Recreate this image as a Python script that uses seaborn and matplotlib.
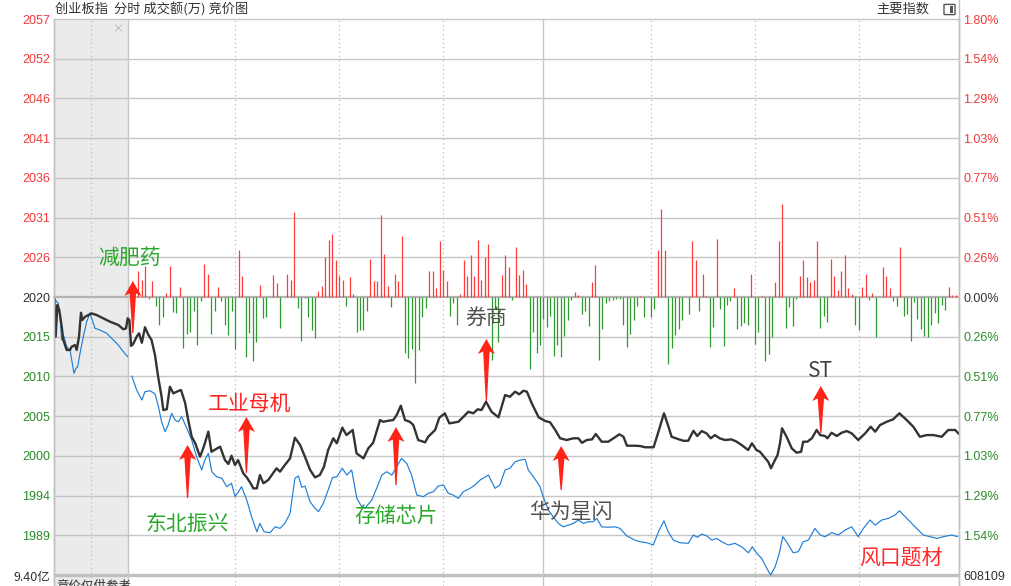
import numpy as np
import pandas as pd
import matplotlib
matplotlib.use("Agg")
import matplotlib.pyplot as plt
from matplotlib.patches import Polygon, Rectangle, FancyBboxPatch
from matplotlib.lines import Line2D
import seaborn as sns

# ---------------- data ----------------
STEP = 1.80 / 7          # one grid step in percent
left_labels = ["2057", "2052", "2046", "2041", "2036", "2031", "2026", "2020",
               "2015", "2010", "2005", "2000", "1994", "1989"]
right_labels = ["1.80%", "1.54%", "1.29%", "1.03%", "0.77%", "0.51%", "0.26%", "0.00%",
                "0.26%", "0.51%", "0.77%", "1.03%", "1.29%", "1.54%"]

# call auction (minutes after 9:15, 0..15), percent change
auc_black_t = [0.06, 0.34, 0.67, 1.07, 1.56, 1.89, 2.57, 3.24, 3.59, 4.26, 4.60, 5.07,
               5.47, 5.74, 6.28, 6.95, 7.64, 8.66, 9.99, 11.35, 13.03, 14.05, 14.59, 14.94]
auc_black = [-0.008, -0.257, -0.052, -0.084, -0.192, -0.278, -0.343, -0.343, -0.322, -0.311,
             -0.343, -0.257, -0.102, -0.149, -0.128, -0.117, -0.106, -0.117, -0.138, -0.160,
             -0.181, -0.209, -0.203, -0.138]
auc_blue_t = [0.06, 0.55, 0.87, 1.22, 1.56, 2.03, 2.57, 3.24, 3.59, 4.05, 4.46, 4.80,
              5.27, 5.94, 6.63, 7.30, 7.64, 8.31, 9.32, 10.68, 12.02, 13.03, 14.05, 14.94]
auc_blue = [-0.008, -0.030, -0.041, -0.128, -0.278, -0.257, -0.322, -0.343, -0.408, -0.494,
            -0.462, -0.451, -0.365, -0.257, -0.160, -0.102, -0.138, -0.203, -0.214, -0.235,
            -0.278, -0.311, -0.354, -0.387]

# continuous trading (minutes after 9:30, lunch removed, 0..240)
black_t = [0.4, 0.9, 1.5, 2.5, 3.2, 4.0, 4.9, 5.9, 6.8, 7.8,
           8.7, 9.7, 10.2, 11.2, 12.1, 13.1, 14.1, 15.3, 16.5, 17.4,
           18.4, 19.4, 20.8, 21.9, 23.2, 24.1, 26.6, 28.0, 29.0, 29.9,
           30.9, 31.8, 33.3, 34.3, 35.4, 36.2, 37.2, 38.1, 39.1, 40.5,
           42.9, 43.9, 45.3, 46.8, 48.2, 49.7, 51.1, 52.6, 54.0, 55.4,
           56.6, 57.8, 59.3, 60.3, 61.9, 63.1, 64.9, 66.0, 68.0, 69.4,
           70.8, 72.8, 73.7, 75.2, 76.6, 77.6, 78.8, 80.0, 81.4, 82.4,
           83.8, 85.8, 86.7, 88.7, 89.9, 91.5, 92.8, 95.4, 96.9, 98.3,
           99.7, 101.0, 102.1, 103.4, 105.0, 107.0, 108.9, 110.3, 111.8, 113.0,
           114.2, 115.2, 116.6, 118.6, 120.5, 121.9, 123.4, 124.8, 126.7, 128.6,
           130.1, 131.1, 132.5, 134.0, 135.1, 136.8, 138.7, 140.2, 141.9, 143.1,
           144.1, 146.5, 147.9, 149.4, 151.8, 153.2, 154.8, 156.1, 157.0, 158.9,
           160.4, 161.8, 163.3, 164.4, 165.7, 167.1, 168.3, 169.5, 170.9, 172.4,
           174.3, 175.8, 177.5, 179.1, 180.2, 181.5, 182.5, 183.7, 184.9, 185.7,
           186.6, 187.6, 188.3, 188.9, 190.2, 191.7, 193.1, 194.4, 195.0, 196.2,
           197.5, 198.9, 199.9, 201.3, 202.0, 203.2, 204.7, 206.1, 207.6, 209.0,
           210.9, 212.9, 214.5, 215.8, 217.2, 219.1, 221.0, 222.8, 224.9, 226.8,
           228.7, 230.7, 232.6, 235.0, 236.9, 238.9, 240.0]
black_pct = [-0.149, -0.317, -0.304, -0.257, -0.235, -0.296, -0.196, -0.246, -0.278, -0.376,
             -0.516, -0.646, -0.732, -0.727, -0.581, -0.624, -0.613, -0.602, -0.686, -0.797,
             -0.905, -0.946, -1.034, -0.969, -0.872, -1.002, -0.969, -1.056, -1.081, -1.028,
             -1.088, -1.056, -1.142, -1.168, -1.206, -1.239, -1.239, -1.153, -1.206, -1.185,
             -1.109, -1.131, -1.088, -1.045, -0.911, -0.958, -1.034, -1.120, -1.168, -1.153,
             -1.099, -0.991, -0.915, -0.947, -0.846, -0.894, -0.861, -1.012, -1.045, -0.980,
             -0.944, -0.797, -0.808, -0.801, -0.797, -0.764, -0.704, -0.797, -0.808, -0.829,
             -0.926, -0.941, -0.905, -0.861, -0.782, -0.753, -0.818, -0.808, -0.775, -0.743,
             -0.753, -0.727, -0.732, -0.678, -0.743, -0.779, -0.635, -0.646, -0.613, -0.630,
             -0.607, -0.613, -0.688, -0.779, -0.803, -0.811, -0.861, -0.915, -0.926, -0.915,
             -0.915, -0.944, -0.926, -0.922, -0.887, -0.937, -0.937, -0.915, -0.889, -0.905,
             -0.963, -0.963, -0.965, -0.973, -0.973, -0.872, -0.753, -0.840, -0.905, -0.920,
             -0.931, -0.931, -0.866, -0.900, -0.868, -0.883, -0.915, -0.894, -0.915, -0.926,
             -0.922, -0.937, -0.963, -0.991, -0.947, -0.991, -1.002, -1.034, -1.067, -1.109,
             -1.067, -1.023, -0.947, -0.850, -0.905, -0.980, -1.008, -1.002, -0.937, -0.937,
             -0.915, -0.861, -0.894, -0.900, -0.915, -0.879, -0.900, -0.879, -0.868, -0.883,
             -0.926, -0.883, -0.840, -0.872, -0.829, -0.808, -0.792, -0.753, -0.797, -0.840,
             -0.905, -0.894, -0.894, -0.905, -0.861, -0.861, -0.887]

blue_t = [1.1, 2.5, 4.0, 4.9, 6.4, 7.8, 8.8, 9.7, 10.7, 11.6,
          12.6, 13.6, 14.5, 15.5, 17.0, 18.4, 19.8, 21.3, 22.2, 23.2,
          24.2, 25.6, 27.1, 28.5, 29.9, 30.9, 31.9, 32.8, 34.3, 35.7,
          37.2, 38.1, 39.3, 41.0, 42.5, 43.9, 45.3, 46.8, 48.2, 49.2,
          50.2, 51.1, 52.6, 54.0, 55.0, 56.4, 57.8, 59.1, 60.3, 61.9,
          63.2, 64.6, 66.1, 67.5, 68.4, 70.4, 71.8, 73.3, 74.7, 76.2,
          77.6, 79.0, 80.5, 81.9, 83.4, 85.3, 86.7, 88.2, 89.6, 91.1,
          92.5, 93.9, 95.4, 96.8, 98.8, 100.2, 101.7, 104.1, 106.0, 107.4,
          108.9, 110.3, 111.8, 113.2, 114.7, 115.6, 117.1, 119.0, 119.9, 121.4,
          122.8, 124.3, 125.7, 127.2, 128.6, 130.1, 131.5, 132.9, 134.4, 135.4,
          136.8, 138.7, 140.6, 142.1, 144.0, 146.4, 147.9, 149.8, 151.7, 153.2,
          154.8, 156.0, 157.5, 159.4, 161.8, 163.3, 164.4, 165.7, 167.1, 168.6,
          170.0, 171.5, 173.4, 175.3, 177.2, 179.2, 180.3, 181.6, 183.0, 184.5,
          185.6, 186.9, 188.1, 189.1, 190.2, 192.1, 193.6, 195.0, 196.5, 198.4,
          199.9, 201.3, 203.2, 205.2, 207.1, 209.0, 210.9, 212.4, 214.3, 215.8,
          217.7, 219.6, 221.5, 222.8, 224.9, 227.3, 229.7, 231.6, 233.6, 235.5,
          237.9, 239.6]
blue_pct = [-0.512, -0.602, -0.667, -0.613, -0.607, -0.628, -0.710, -0.808, -0.872, -0.829,
            -0.753, -0.797, -0.808, -0.775, -0.850, -0.926, -1.034, -1.120, -1.056, -1.012,
            -1.131, -1.164, -1.174, -1.228, -1.206, -1.293, -1.261, -1.228, -1.315, -1.423,
            -1.520, -1.466, -1.520, -1.526, -1.488, -1.498, -1.466, -1.401, -1.174, -1.159,
            -1.232, -1.224, -1.326, -1.368, -1.390, -1.336, -1.250, -1.168, -1.164, -1.109,
            -1.153, -1.120, -1.304, -1.358, -1.368, -1.315, -1.239, -1.153, -1.131, -1.153,
            -1.099, -1.045, -1.077, -1.153, -1.282, -1.293, -1.271, -1.261, -1.224, -1.217,
            -1.271, -1.282, -1.304, -1.261, -1.239, -1.217, -1.185, -1.153, -1.239, -1.217,
            -1.120, -1.109, -1.067, -1.056, -1.051, -1.120, -1.164, -1.228, -1.293, -1.379,
            -1.423, -1.466, -1.488, -1.477, -1.466, -1.444, -1.466, -1.455, -1.455, -1.433,
            -1.488, -1.491, -1.488, -1.498, -1.546, -1.574, -1.585, -1.591, -1.606, -1.520,
            -1.449, -1.520, -1.574, -1.591, -1.595, -1.541, -1.556, -1.535, -1.546, -1.574,
            -1.563, -1.585, -1.606, -1.595, -1.617, -1.656, -1.617, -1.660, -1.692, -1.757,
            -1.800, -1.747, -1.660, -1.552, -1.585, -1.656, -1.649, -1.585, -1.574, -1.498,
            -1.541, -1.552, -1.526, -1.541, -1.509, -1.488, -1.552, -1.498, -1.444, -1.477,
            -1.444, -1.433, -1.412, -1.384, -1.433, -1.488, -1.541, -1.552, -1.563, -1.552,
            -1.541, -1.552]

# per-minute bars (minute 0..240), percent
bar_values = [
    0, 0, 0, 0.166, 0.112, 0.203, -0.013, 0.106, -0.060, -0.179,
    -0.130, 0.026, 0.203, -0.099, -0.104, 0.065, -0.330, -0.238, -0.229, -0.093,
    -0.313, -0.028, 0.216, 0.151, -0.238, -0.093, 0.065, -0.028, -0.179, -0.244,
    -0.093, -0.337, 0.306, 0.138, -0.389, -0.233, -0.416, -0.293, 0.078, -0.136,
    -0.130, 0, 0.144, 0.091, -0.201, 0, 0.151, 0.112, 0.549, -0.071,
    -0.287, -0.006, -0.130, -0.212, -0.266, 0.041, 0.073, 0.257, 0.371, 0.410,
    0.242, 0.138, 0.112, -0.060, 0.130, 0.021, -0.227, -0.216, -0.216, -0.093,
    0.248, 0.106, 0.102, 0.533, 0.281, 0.073, -0.065, 0.151, 0.102, 0.393,
    -0.363, -0.395, -0.337, -0.557, -0.341, -0.130, -0.071, 0.166, 0.166, 0.058,
    0.365, 0.173, 0.106, -0.121, -0.039, -0.179, 0.021, 0.238, 0.138, 0.274,
    0.134, 0.371, 0.108, 0.257, 0.345, -0.406, -0.078, -0.293, 0.144, 0.274,
    0.192, -0.021, 0.322, 0.144, 0.173, 0.086, -0.466, -0.229, -0.363, -0.313,
    -0.142, -0.194, -0.121, -0.384, -0.313, -0.390, -0.255, -0.151, -0.021, 0.030,
    0.015, -0.108, -0.093, -0.190, 0.095, 0.209, -0.410, -0.205, -0.039, -0.028,
    -0.017, -0.013, -0.013, -0.179, -0.326, -0.238, -0.147, -0.060, 0.008, -0.130,
    0, -0.130, -0.078, 0.302, 0.572, 0.306, -0.434, -0.330, -0.244, -0.207,
    -0.147, 0, -0.112, 0.365, 0.238, -0.093, 0.151, 0.008, -0.326, -0.194,
    0.378, -0.078, -0.319, -0.054, -0.028, 0.056, -0.205, -0.190, -0.168, -0.179,
    0.151, -0.304, -0.229, 0.008, -0.416, -0.369, -0.259, 0.095, 0.361, 0.604,
    -0.201, -0.067, -0.190, -0.013, 0.138, 0.238, 0.128, 0.095, 0.108, 0.365,
    -0.201, -0.121, -0.164, 0.248, 0.134, 0.043, 0.166, 0.274, 0.056, 0.021,
    -0.183, -0.216, 0.063, 0.151, -0.021, 0.026, -0.259, 0, 0.192, 0.138,
    0.056, -0.028, -0.060, 0.322, -0.121, -0.108, -0.287, -0.034, -0.142, -0.205,
    -0.251, -0.259, -0.179, -0.104, -0.168, -0.050, -0.082, 0.063, 0.011, 0.011,
    -0.229]

# annotations: label, text (minute, pct), colour, arrow (minute, tip pct, base pct)
notes = [
    ("减肥药", 0.6, 0.253, "#2aa82a", (1.4, 0.104, -0.233)),
    ("工业母机", 35.2, -0.693, "#ff2020", (34.2, -0.777, -1.140)),
    ("东北振兴", 17.0, -1.470, "#2aa82a", (17.2, -0.958, -1.302)),
    ("存储芯片", 77.4, -1.418, "#2aa82a", (77.4, -0.842, -1.218)),
    ("券商", 103.4, -0.136, "#505050", (103.5, -0.272, -0.673)),
    ("华为星闪", 127.9, -1.392, "#505050", (125.1, -0.965, -1.250)),
    ("ST", 199.9, -0.479, "#404048", (200.1, -0.576, -0.881)),
    ("风口题材", 223.2, -1.690, "#ff2a2a", None),
]

# ---------------- layout ----------------
W, H = 1011, 586
X0, X1, Y0 = 54, 959, 19
PX_X = 240 / 831          # minutes per pixel
PX_Y = 3.6 / 556          # percent per pixel
AUCT_W = 74 * PX_X        # width of the auction panel in minutes

RED, GREEN, DARK = "#f03a3a", "#2a8c2a", "#333333"
GRID = "#c6c6c6"

sns.set_style("white")
plt.rcParams["font.family"] = ["Noto Sans CJK SC", "DejaVu Sans"]

fig = plt.figure(figsize=(W / 100, H / 100), dpi=100)
ax = fig.add_axes([X0 / W, 0, (X1 - X0) / W, (H - Y0) / H])
ax.set_xlim(-AUCT_W, 240)
ax.set_ylim(-1.80 - 11 * PX_Y, 1.80)

# auction shading and grid
ax.axvspan(-AUCT_W, 0, color="#ebebeb", zorder=0, lw=0)
for k in range(-6, 8):
    lw = 1.6 if k == 0 else 1.0
    col = "#b4b4b4" if k == 0 else GRID
    ax.axhline(k * STEP, color=col, lw=lw, zorder=1, clip_on=False)
ax.axhline(-1.80, color="#c0c0c0", lw=2.4, zorder=1)
ax.axvline(0, color=GRID, lw=1.0, zorder=1)
ax.axvline(120, color=GRID, lw=1.0, zorder=1)
for m in [-AUCT_W / 2, 31, 61, 91, 151, 181, 211]:
    ax.axvline(m, color="#bdbdbd", lw=0.9, ls=(0, (1, 2.5)), zorder=1)

# bars
minutes = np.arange(len(bar_values))
vals = np.array(bar_values)
nz = vals != 0
ax.vlines(minutes[nz], 0, vals[nz],
          colors=np.where(vals[nz] > 0, "#ff3b3b", "#2f9a2f"), lw=0.9, zorder=2)

# lines
auc_x = lambda t: (np.array(t) / 15.0 - 1.0) * AUCT_W
df_black = pd.DataFrame({"x": np.concatenate([auc_x(auc_black_t), black_t]),
                         "y": np.concatenate([auc_black, black_pct])})
df_blue_a = pd.DataFrame({"x": auc_x(auc_blue_t), "y": auc_blue})
df_blue = pd.DataFrame({"x": blue_t, "y": blue_pct})
for d in (df_blue_a, df_blue):
    sns.lineplot(data=d, x="x", y="y", ax=ax, color="#1f7fd8", lw=0.85,
                 estimator=None, sort=False, zorder=3)
sns.lineplot(data=df_black, x="x", y="y", ax=ax, color="#333333", lw=1.7,
             estimator=None, sort=False, zorder=4)

# annotations
def draw_arrow(x, tip, base, color="#ff2318"):
    L = (tip - base) / PX_Y
    shape = [(0, 0), (8.5, -15), (3.2, -12.5), (0.6, -L), (-0.6, -L), (-3.2, -12.5), (-8.5, -15)]
    pts = [(x + dx * PX_X, tip + dy * PX_Y) for dx, dy in shape]
    ax.add_patch(Polygon(pts, closed=True, fc=color, ec="none", zorder=6))

for label, tx, ty, col, arrow in notes:
    ax.text(tx, ty, label, color=col, fontsize=15, ha="center", va="center", zorder=7)
    if arrow is not None:
        draw_arrow(*arrow)

# axes cosmetics
ax.set_xlabel("")
ax.set_ylabel("")
ax.set_xticks([])
ticks = [k * STEP for k in range(7, -7, -1)]
tick_cols = [RED] * 7 + [DARK] + [GREEN] * 6
ax.set_yticks(ticks)
ax.set_yticklabels(left_labels, fontsize=9, family="Liberation Sans")
for t, c in zip(ax.get_yticklabels(), tick_cols):
    t.set_color(c)
ax.tick_params(axis="y", length=0, pad=3)
ax2 = ax.twinx()
ax2.set_ylim(ax.get_ylim())
ax2.set_yticks(ticks)
ax2.set_yticklabels(right_labels, fontsize=9, family="Liberation Sans")
for t, c in zip(ax2.get_yticklabels(), tick_cols):
    t.set_color(c)
ax2.tick_params(axis="y", length=0, pad=3)
for a in (ax, ax2):
    for s in ("top", "bottom"):
        a.spines[s].set_visible(False)
    for s in ("left", "right"):
        a.spines[s].set_color("#c0c0c0")
        a.spines[s].set_linewidth(1.0)

# header and footer texts
fig.add_artist(Line2D([X1 / W, X1 / W], [1 - Y0 / H, 1], color="#c0c0c0", lw=1.0))
fig.text(55 / W, 1 - 9 / H, "创业板指  分时 成交额(万) 竞价图", fontsize=9.5,
         color="#333333", va="center")
fig.text(929 / W, 1 - 9 / H, "主要指数", fontsize=9.5, color="#333333",
         va="center", ha="right")
fig.patches.append(FancyBboxPatch((945 / W, 1 - 14 / H), 9 / W, 9 / H,
                                  boxstyle="round,pad=0.001", fc="white", ec="#555555",
                                  lw=1.0, transform=fig.transFigure))
fig.patches.append(Rectangle((950 / W, 1 - 13 / H), 3 / W, 7 / H, fc="#555555",
                             ec="none", transform=fig.transFigure))
fig.text(118 / W, 1 - 29 / H, "×", fontsize=8, color="#b0b0b0", ha="center", va="center")
fig.text(50 / W, 1 - 577 / H, "9.40亿", fontsize=9, color="#333333", ha="right", va="center")
fig.text(963 / W, 1 - 577 / H, "608109", fontsize=9, color="#333333", ha="left",
         va="center", family="Liberation Sans")
fig.text(56 / W, 1 - 580 / H, "竞价仅供参考", fontsize=9, color="#333333", va="top")

fig.savefig("out.png", dpi=100)
